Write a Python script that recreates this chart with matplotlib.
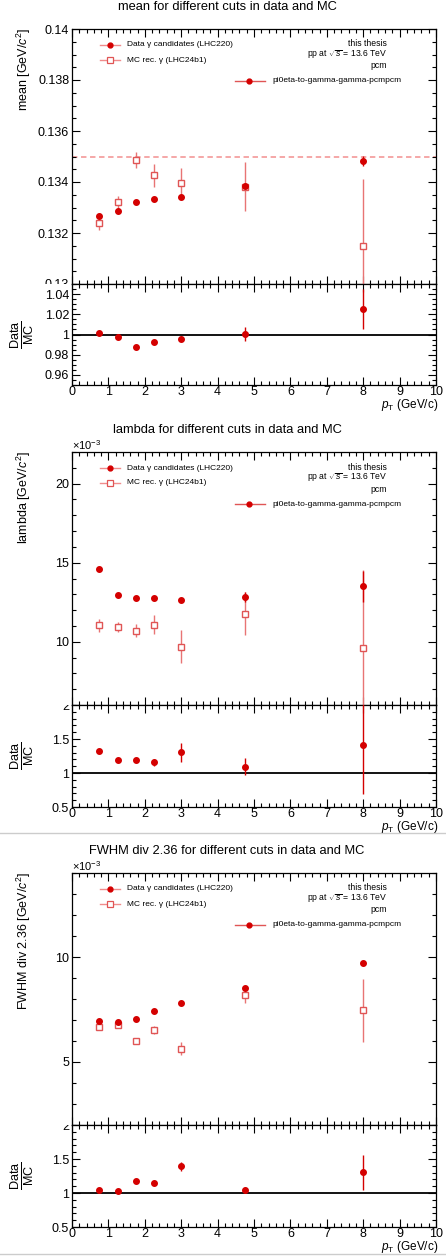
import numpy as np
import matplotlib
matplotlib.use("Agg")
import matplotlib.pyplot as plt
from matplotlib.lines import Line2D
from matplotlib.ticker import MultipleLocator, FormatStrFormatter, FuncFormatter
from matplotlib.transforms import Bbox, TransformedBbox

plt.rcParams['font.family'] = ['Liberation Sans', 'DejaVu Sans']
plt.rcParams['mathtext.fontset'] = 'custom'
plt.rcParams['mathtext.rm'] = 'Liberation Sans'
plt.rcParams['mathtext.it'] = 'Liberation Sans:italic'

# 数据 (pT bins)
pt = [0.75, 1.25, 1.75, 2.25, 3.0, 4.75, 8.0]

mean_data = [0.13267, 0.13287, 0.13322, 0.13334, 0.13343, 0.13386, 0.13482]
mean_data_err = [0.0001, 0.00006, 0.00005, 0.00005, 0.00006, 0.0001, 0.0002]
mean_mc = [0.13241, 0.1332, 0.13486, 0.13427, 0.13397, 0.13381, 0.1315]
mean_mc_err = [0.0003, 0.00026, 0.00033, 0.00045, 0.00057, 0.00096, 0.0026]
mean_ratio = [1.0017, 0.9973, 0.9877, 0.993, 0.9957, 1.0003, 1.025]
mean_ratio_err = [0.001, 0.001, 0.0008, 0.0015, 0.002, 0.0072, 0.02]
pi0_mass = 0.135

# lambda, FWHM in units of 1e-3
lam_data = [14.59, 12.98, 12.77, 12.77, 12.66, 12.83, 13.5]
lam_data_err = [0.1, 0.08, 0.08, 0.08, 0.1, 0.3, 1.0]
lam_mc = [11.03, 10.94, 10.71, 11.07, 9.69, 11.76, 9.62]
lam_mc_err = [0.4, 0.3, 0.43, 0.6, 1.05, 1.36, 4.9]
lam_ratio = [1.325, 1.185, 1.195, 1.155, 1.305, 1.095, 1.405]
lam_ratio_err = [0.03, 0.02, 0.03, 0.05, 0.14, 0.125, 0.72]

fwhm_data = [6.96, 6.89, 7.05, 7.43, 7.82, 8.53, 9.72]
fwhm_data_err = [0.05, 0.05, 0.05, 0.05, 0.05, 0.08, 0.08]
fwhm_mc = [6.69, 6.75, 5.99, 6.51, 5.63, 8.19, 7.46]
fwhm_mc_err = [0.1, 0.1, 0.15, 0.2, 0.3, 0.4, 1.5]
fwhm_ratio = [1.04, 1.025, 1.175, 1.145, 1.39, 1.045, 1.305]
fwhm_ratio_err = [0.02, 0.015, 0.02, 0.03, 0.07, 0.04, 0.26]

W, H = 446, 1256
C_DATA = '#d40000'
C_MC = '#e05555'
C_MCERR = '#e87474'
C_LEG = '#f08c8c'

fig = plt.figure(figsize=(W / 100, H / 100), dpi=100)


def fx(x):
    return x / W


def fy(y):
    return 1 - y / H


def style_axis(ax, ymaj, ymin, fmt):
    ax.set_xlim(0, 10)
    ax.xaxis.set_major_locator(MultipleLocator(1))
    ax.xaxis.set_minor_locator(MultipleLocator(0.2))
    ax.yaxis.set_major_locator(MultipleLocator(ymaj))
    ax.yaxis.set_minor_locator(MultipleLocator(ymin))
    ax.yaxis.set_major_formatter(fmt)
    ax.tick_params(which='both', direction='in', top=True, right=True,
                   width=0.8, labelsize=9, pad=2)
    ax.tick_params(which='major', length=6)
    ax.tick_params(which='minor', length=3)
    for s in ax.spines.values():
        s.set_linewidth(0.9)


gfmt = FuncFormatter(lambda v, p: '%g' % round(v, 6))

panels = [
    dict(top=29, mid=284, bot=385, title='mean for different cuts in data and MC',
         ylabel='mean [GeV/$c^2$]', data=mean_data, derr=mean_data_err,
         mc=mean_mc, mcerr=mean_mc_err, ratio=mean_ratio, rerr=mean_ratio_err,
         ylim=(0.13, 0.14), ymaj=0.002, ymin=0.0005,
         rlim=(0.95, 1.05), rmaj=0.02, rmin=0.005, exp=False, line=pi0_mass),
    dict(top=452, mid=705, bot=807, title='lambda for different cuts in data and MC',
         ylabel='lambda [GeV/$c^2$]', data=lam_data, derr=lam_data_err,
         mc=lam_mc, mcerr=lam_mc_err, ratio=lam_ratio, rerr=lam_ratio_err,
         ylim=(6, 22), ymaj=5, ymin=1,
         rlim=(0.5, 2), rmaj=0.5, rmin=0.1, exp=True, line=None),
    dict(top=873, mid=1125, bot=1227, title='FWHM div 2.36 for different cuts in data and MC',
         ylabel='FWHM div 2.36 [GeV/$c^2$]', data=fwhm_data, derr=fwhm_data_err,
         mc=fwhm_mc, mcerr=fwhm_mc_err, ratio=fwhm_ratio, rerr=fwhm_ratio_err,
         ylim=(2, 14), ymaj=5, ymin=1,
         rlim=(0.5, 2), rmaj=0.5, rmin=0.1, exp=True, line=None),
]

xl, xr = 72, 436

for p in panels:
    top, mid, bot = p['top'], p['mid'], p['bot']
    ax = fig.add_axes([fx(xl), fy(mid), fx(xr - xl), (mid - top) / H])
    rax = fig.add_axes([fx(xl), fy(bot), fx(xr - xl), (bot - mid) / H])
    rax.set_zorder(2)

    # main pad
    if p['line'] is not None:
        ax.axhline(p['line'], color='#f4a0a0', lw=1.3, ls=(0, (3, 2)), zorder=1)
    ax.errorbar(pt, p['mc'], yerr=p['mcerr'], fmt='s', ms=5, mfc='white',
                mec=C_MC, mew=1.0, ecolor=C_MCERR, elinewidth=1.0, capsize=0, zorder=3)
    ax.errorbar(pt, p['data'], yerr=p['derr'], fmt='o', ms=4, color=C_DATA,
                ecolor=C_DATA, elinewidth=1.0, capsize=0, zorder=4)
    ax.set_ylim(*p['ylim'])
    style_axis(ax, p['ymaj'], p['ymin'], gfmt)
    ax.tick_params(axis='x', labelbottom=False)

    # ratio pad
    rax.axhline(1.0, color='black', lw=1.3, zorder=1)
    rax.errorbar(pt, p['ratio'], yerr=p['rerr'], fmt='o', ms=4, color=C_DATA,
                 ecolor=C_DATA, elinewidth=1.0, capsize=0, zorder=3)
    rax.set_ylim(*p['rlim'])
    style_axis(rax, p['rmaj'], p['rmin'], gfmt)
    rax.xaxis.set_major_formatter(FormatStrFormatter('%d'))
    rax.tick_params(axis='x', pad=1)

    # clip labels at the pad boundary (like ROOT pads)
    clip_main = TransformedBbox(Bbox([[0, fy(mid)], [1, 1]]), fig.transFigure)
    clip_ratio = TransformedBbox(Bbox([[0, 0], [1, fy(mid)]]), fig.transFigure)
    fig.canvas.draw()
    for lab in ax.get_yticklabels():
        lab.set_clip_box(clip_main)
        lab.set_clip_on(True)
    for lab in rax.get_yticklabels():
        lab.set_clip_box(clip_ratio)
        lab.set_clip_on(True)

    # texts
    fig.text(fx(227), fy(top - 22), p['title'], ha='center', va='center', fontsize=9.3)
    fig.text(fx(24), fy(top - 1), p['ylabel'], rotation=90, ha='center', va='top', fontsize=9)
    fig.text(fx(22), fy((mid + bot) / 2), r'$\frac{\mathrm{Data}}{\mathrm{MC}}$',
             rotation=90, ha='center', va='center', fontsize=13)
    fig.text(fx(xr + 2), fy(bot + 20), r'$p_{\mathrm{T}}$ (GeV/c)', ha='right',
             va='center', fontsize=8.5)
    if p['exp']:
        fig.text(fx(72), fy(top - 7), r'$\times$10$^{-3}$', ha='left', va='center', fontsize=8)

    # legend
    for dy, lab, mk in [(16, 'Data γ candidates (LHC220)', 'o'),
                        (31, 'MC rec. γ (LHC24b1)', 's')]:
        yy = fy(top + dy)
        fig.add_artist(Line2D([fx(100), fx(120)], [yy, yy], color=C_LEG, lw=1.0))
        if mk == 'o':
            fig.add_artist(Line2D([fx(110)], [yy], marker='o', ms=3.5, color=C_DATA, lw=0))
        else:
            fig.add_artist(Line2D([fx(110)], [yy], marker='s', ms=4, mfc='white',
                                  mec=C_MC, mew=0.9, lw=0))
        fig.text(fx(127), yy, lab, ha='left', va='center', fontsize=6)
    yy = fy(top + 52)
    fig.add_artist(Line2D([fx(235), fx(265)], [yy, yy], color=C_MC, lw=1.0))
    fig.add_artist(Line2D([fx(249)], [yy], marker='o', ms=3.5, color=C_DATA, lw=0))
    fig.text(fx(272), yy, 'pi0eta-to-gamma-gamma-pcmpcm', ha='left', va='center', fontsize=6)

    fig.text(fx(387), fy(top + 15), 'this thesis', ha='right', va='center', fontsize=6.2)
    fig.text(fx(387), fy(top + 26), r'pp at $\sqrt{s}$ = 13.6 TeV', ha='right',
             va='center', fontsize=6.2)
    fig.text(fx(387), fy(top + 37), 'pcm', ha='right', va='center', fontsize=6.2)

# gray separators between the canvases
for yline in [833, 1254]:
    fig.add_artist(Line2D([0, 1], [fy(yline), fy(yline)], color='#cccccc', lw=1.0))

fig.savefig('out.png', dpi=100)
